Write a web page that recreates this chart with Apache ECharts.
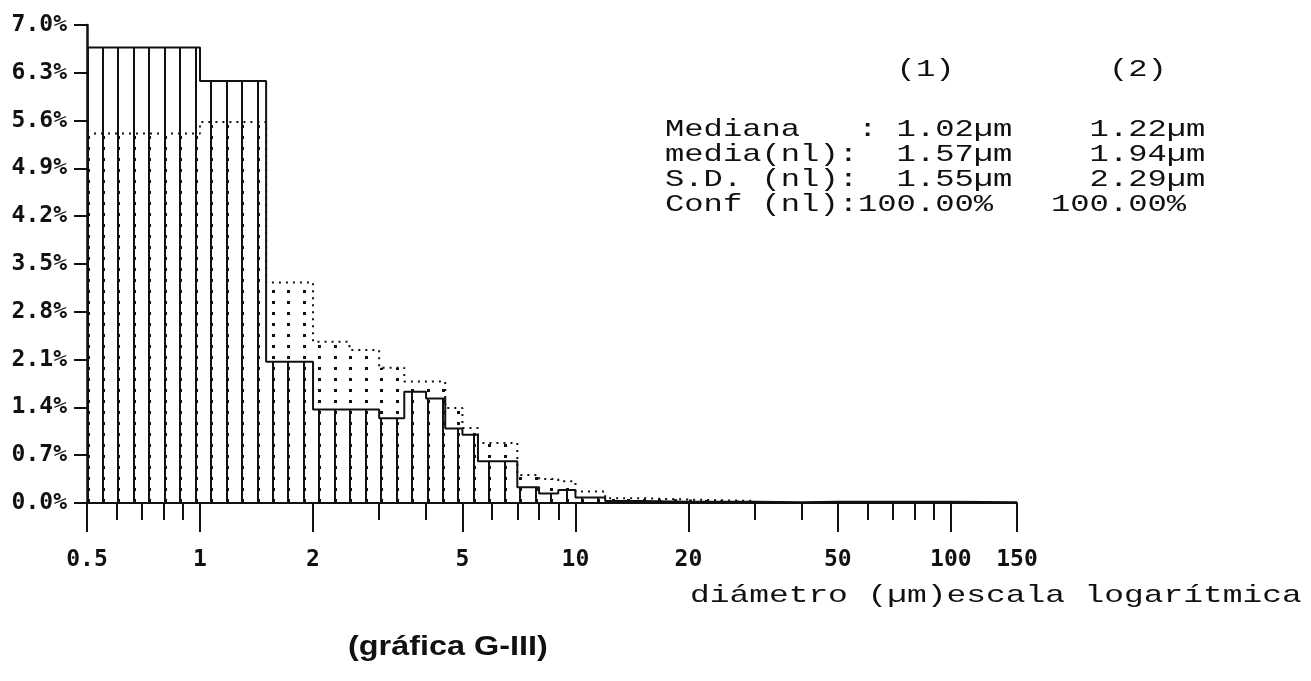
<!DOCTYPE html>
<html>
<head>
<meta charset="utf-8">
<script src="https://cdn.jsdelivr.net/npm/echarts@6/dist/echarts.min.js"></script>
<style>
  html, body { margin: 0; padding: 0; background: #fff; }
  #main { width: 1311px; height: 681px; }
</style>
</head>
<body>
<div id="main"></div>
<script>
// bordes de las clases (µm), escala logaritmica
var binEdges = [0.5, 1, 1.5, 2, 2.5, 3, 3.5, 4, 4.5, 5, 5.5, 7, 8, 9, 10, 12, 15, 20, 30, 40, 50, 70, 100, 150]
// % por clase, curva (1) trazo continuo
var pct1 = [6.67, 6.18, 2.07, 1.37, 1.37, 1.24, 1.63, 1.53, 1.09, 1.00, 0.61, 0.23, 0.14, 0.19, 0.08, 0.03, 0.02, 0.02, 0.01, 0.02, 0.02, 0.02, 0.01]
// % por clase, curva (2) punteada
var pct2 = [5.41, 5.58, 3.23, 2.36, 2.24, 1.98, 1.78, 1.78, 1.39, 1.10, 0.88, 0.41, 0.35, 0.32, 0.17, 0.07, 0.05, 0.03]

var xLabelValues = [0.5, 1, 2, 5, 10, 20, 50, 100, 150]
var xMajorTicks = [0.5, 1, 2, 5, 10, 20, 50, 100, 150]
var xMinorTicks = [0.6, 0.7, 0.8, 0.9, 3, 4, 6, 7, 8, 9, 30, 40, 60, 70, 80, 90]

var statHead = '            (1)        (2)'
var statRows = [
  'Mediana   : 1.02µm    1.22µm',
  'media(nl):  1.57µm    1.94µm',
  'S.D. (nl):  1.55µm    2.29µm',
  'Conf (nl):100.00%   100.00%'
]
var axisTitle = 'diámetro (µm)escala logarítmica'
var caption = '(gráfica G-III)'

var chart = echarts.init(document.getElementById('main'))

// puntos para la linea escalonada: cada borde con el valor de su clase
var stepData = function (vals) {
  return binEdges.slice(0, vals.length + 1).map(function (e, i) {
    return [e, vals[Math.min(i, vals.length - 1)]]
  })
}

// rayado vertical del histograma (1)
var hatch = function () {
  var c = document.createElement('canvas')
  c.width = 170
  c.height = 4
  var ctx = c.getContext('2d')
  ctx.fillStyle = '#111'
  for (var k = 0; k < 11; k++) {
    ctx.fillRect(Math.round(9.3 + k * 15.45), 0, 2, 4)
  }
  return c
}

// puntos del histograma (2), en las mismas columnas del rayado
var dots = function () {
  var c = document.createElement('canvas')
  c.width = 170
  c.height = 22
  var ctx = c.getContext('2d')
  ctx.fillStyle = '#111'
  for (var k = 0; k < 11; k++) {
    var x = Math.round(9.3 + k * 15.45)
    ctx.fillRect(x, 4, 3, 3)
    ctx.fillRect(x, 15, 3, 3)
  }
  return c
}

// linea de texto de impresora: monoespaciada y ensanchada
var printLine = function (line, x, y, sx, font) {
  return {
    type: 'text',
    x: x,
    y: y,
    scaleX: sx,
    silent: true,
    style: { text: line, font: font, fill: '#111', align: 'left', verticalAlign: 'middle' }
  }
}

var statFont = '24px "Liberation Mono", monospace'
var graphics = [printLine(statHead, 665, 70, 1.34, statFont)]
statRows.forEach(function (row, i) {
  graphics.push(printLine(row, 665, 130 + i * 25, 1.34, statFont))
})
graphics.push(printLine(axisTitle, 690, 596, 1.37, statFont))
graphics.push(printLine(caption, 348, 648, 1.2, 'bold 27px "Liberation Sans", Arial, sans-serif'))

var tickFont = { fontFamily: 'DejaVu Sans Mono', fontWeight: 'bold', fontSize: 23, color: '#111' }

var option = {
  animation: false,
  backgroundColor: '#fff',
  grid: { left: 87, right: 294, top: 25, bottom: 178 },
  xAxis: [{
    type: 'log',
    logBase: 10,
    min: 0.5,
    max: 150,
    axisLine: { lineStyle: { color: '#111', width: 2 } },
    axisTick: { customValues: xMajorTicks, length: 29, lineStyle: { color: '#111', width: 2 } },
    axisLabel: Object.assign({
      customValues: xLabelValues,
      margin: 46,
      formatter: function (v) { return String(+(+v).toPrecision(3)) }
    }, tickFont),
    minorTick: { show: false },
    splitLine: { show: false }
  }, {
    type: 'log',
    logBase: 10,
    min: 0.5,
    max: 150,
    position: 'bottom',
    axisLine: { show: false },
    axisTick: { customValues: xMinorTicks, length: 17, lineStyle: { color: '#111', width: 2 } },
    axisLabel: { show: false },
    splitLine: { show: false }
  }],
  yAxis: {
    type: 'value',
    min: 0,
    max: 7,
    interval: 0.7,
    axisLine: { show: true, lineStyle: { color: '#111', width: 2.5 } },
    axisTick: { show: true, length: 13, lineStyle: { color: '#111', width: 2 } },
    axisLabel: Object.assign({
      margin: 20,
      formatter: function (v) { return v.toFixed(1) + '%' }
    }, tickFont),
    splitLine: { show: false }
  },
  series: [{
    name: '(2)',
    type: 'line',
    step: 'end',
    data: stepData(pct2),
    showSymbol: false,
    silent: true,
    z: 2,
    lineStyle: { color: '#111', width: 2, type: [2, 5] },
    areaStyle: { color: { image: dots(), repeat: 'repeat' }, opacity: 1 }
  }, {
    name: '(1)',
    type: 'line',
    step: 'end',
    data: stepData(pct1),
    showSymbol: false,
    silent: true,
    z: 3,
    lineStyle: { color: '#111', width: 2 },
    areaStyle: { color: { image: hatch(), repeat: 'repeat' }, opacity: 1 }
  }],
  graphic: graphics
}

chart.setOption(option)
</script>
</body>
</html>
